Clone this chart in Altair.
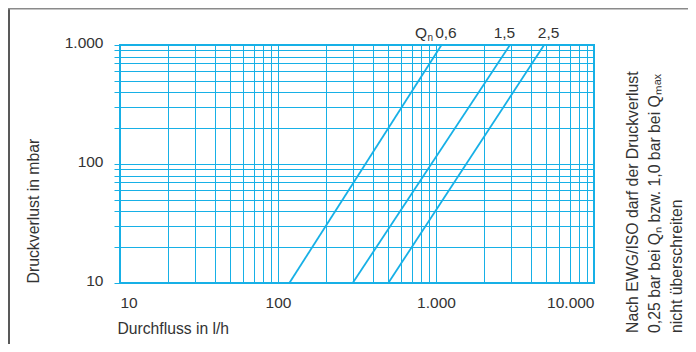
import altair as alt
import pandas as pd

# ---- data ----
series = ["0,6", "1,5", "2,5"]            # Qn in m3/h
flow_at_low = [118, 297, 499]             # l/h at 10 mbar
flow_at_high = [1083, 2938, 4831]         # l/h at 1000 mbar
loss_low = 10
loss_high = 1000

x_grid = [d * m for m in (10, 100, 1000) for d in range(1, 10)] + [10000]
y_grid = [d * m for m in (10, 100) for d in range(1, 10)] + [1000]

note_lines = [
    "Nach EWG/ISO darf der Druckverlust",
    "0,25 bar bei Q\u2099 bzw. 1,0 bar bei Q\u2098\u2090\u2093",
    "nicht überschreiten",
]

rows = []
for s, a, b in zip(series, flow_at_low, flow_at_high):
    rows.append({"s": s, "q": a, "p": loss_low})
    rows.append({"s": s, "q": b, "p": loss_high})
df = pd.DataFrame(rows)
top = df[df["p"] == loss_high]

CYAN = "#17b0e6"
TEXT = "#333333"
FONT = "Liberation Sans, Arial, sans-serif"

lab_x = ("datum.value == 10 ? '10' : datum.value == 100 ? '100' : "
         "datum.value == 1000 ? '1.000' : datum.value == 10000 ? '10.000' : ''")
lab_y = ("datum.value == 10 ? '10' : datum.value == 100 ? '100' : "
         "datum.value == 1000 ? '1.000' : ''")

X = alt.X("q:Q",
          scale=alt.Scale(type="log", domain=[10, 10000], nice=False),
          axis=alt.Axis(values=x_grid, grid=True, ticks=False, domain=False,
                        labelExpr=lab_x, labelFlush=True, labelOverlap=False,
                        labelPadding=12, labelFontSize=15.5, labelBaseline="top",
                        title="Durchfluss in l/h", titleFontSize=15.7,
                        titleX=-3, titleY=50, titleAlign="left",
                        titleBaseline="alphabetic", titleAngle=0))
Y = alt.Y("p:Q",
          scale=alt.Scale(type="log", domain=[10, 1000], nice=False),
          axis=alt.Axis(values=y_grid, grid=True, ticks=True, tickSize=6,
                        tickColor=CYAN, tickWidth=1, domain=False,
                        labelExpr=lab_y, labelOverlap=False, labelFlush=False,
                        labelPadding=11, labelFontSize=15.5, labelBaseline="middle",
                        labelOffset=-3,
                        title="Druckverlust in mbar", titleFontSize=15.8,
                        titleAngle=270, titleX=-82, titleY=238,
                        titleAlign="left", titleBaseline="alphabetic"))

lines = alt.Chart(df).mark_line(color=CYAN, strokeWidth=1.8).encode(
    x=X, y=Y, detail="s:N")

def lab(s, dx, align="center", text=None, size=15.5, dy=-7.3):
    enc = dict(x=X, y=Y, text=alt.value(text) if text else alt.Text("s:N"))
    return (alt.Chart(top).transform_filter(alt.datum.s == s)
            .mark_text(dx=dx, dy=dy, align=align, baseline="alphabetic",
                       fontSize=size, font=FONT, color=TEXT)
            .encode(**enc))

labels = [
    lab("0,6", 4.5),
    lab("0,6", -14.5, align="right", text="Q"),
    lab("0,6", -14, align="left", text="n", size=10, dy=-4),
    lab("1,5", -5.5),
    lab("2,5", 4.5),
]

one = alt.Data(values=[{}])
frame_left = alt.Chart(one).mark_rule(color="#222222", strokeWidth=1.5).encode(
    x=alt.value(-111), y=alt.value(-37), y2=alt.value(299))
frame_top = alt.Chart(one).mark_rule(color="#8a8a8a", strokeWidth=1.5).encode(
    x=alt.value(-112), x2=alt.value(568), y=alt.value(-36.3))

note = alt.Chart(one).mark_text(angle=270, align="left", baseline="alphabetic",
                                fontSize=15.8, lineHeight=22, font=FONT,
                                color=TEXT).encode(
    x=alt.value(517.5), y=alt.value(288), text=alt.value(note_lines))

chart = alt.layer(lines, *labels, frame_left, frame_top, note).properties(
    width=474, height=238,
    autosize=alt.AutoSizeParams(type="none"),
    padding={"left": 112, "top": 37, "right": 94, "bottom": 61},
    background="white",
).configure_view(stroke=CYAN, strokeWidth=2).configure_axis(
    gridColor=CYAN, gridWidth=1, gridOpacity=1,
    labelColor=TEXT, titleColor=TEXT, labelFont=FONT, titleFont=FONT,
    titleFontWeight="normal",
)

chart.save("out.html", embed_options={"renderer": "svg", "actions": False})
